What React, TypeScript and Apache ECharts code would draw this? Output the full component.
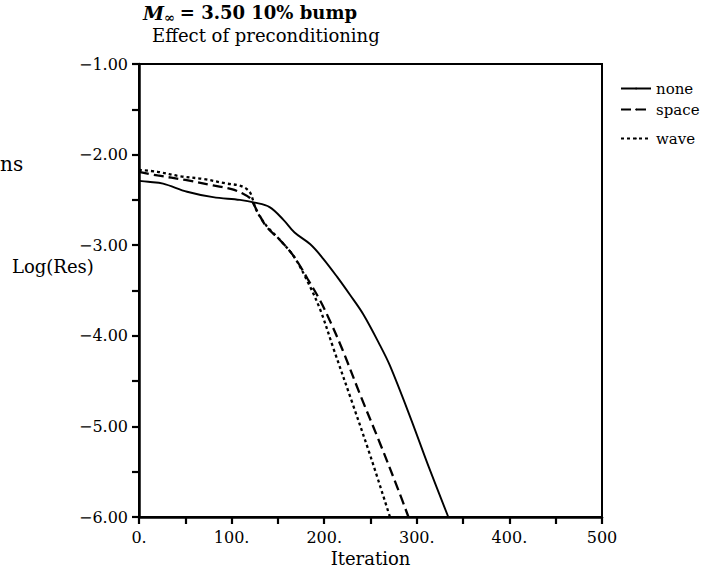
import React, { useEffect, useRef } from "react";
import * as echarts from "echarts";

const FONT = "DejaVu Serif";

const noneIter = [0, 10, 26, 52, 80, 109, 125, 141, 156, 168, 185, 199, 214, 228, 242, 260, 271, 293, 313, 334];
const noneRes = [-2.29, -2.3, -2.32, -2.41, -2.47, -2.5, -2.53, -2.58, -2.72, -2.86, -2.99, -3.15, -3.35, -3.55, -3.76, -4.1, -4.33, -4.9, -5.45, -6.0];

const spaceIter = [0, 20, 50, 80, 100, 112, 120, 124, 128, 138, 152, 167, 182, 195, 206, 220, 240, 260, 280, 291];
const spaceRes = [-2.19, -2.23, -2.28, -2.34, -2.38, -2.43, -2.48, -2.55, -2.63, -2.8, -2.94, -3.12, -3.37, -3.6, -3.83, -4.16, -4.68, -5.18, -5.7, -6.0];

const waveIter = [0, 20, 45, 70, 95, 108, 115, 120, 123, 127, 138, 152, 167, 182, 196, 210, 230, 250, 271];
const waveRes = [-2.17, -2.19, -2.24, -2.27, -2.32, -2.34, -2.37, -2.42, -2.5, -2.62, -2.79, -2.94, -3.12, -3.4, -3.72, -4.14, -4.73, -5.33, -6.0];

const seriesNames = ["none", "space", "wave"];
const titleLine1 = "= 3.50 10% bump";
const titleLine2 = "Effect of preconditioning";
const yTitle = "Log(Res)";
const xTitle = "Iteration";

const zip = (xs: number[], ys: number[]) => xs.map((x, i) => [x, ys[i]]);

export default function App() {
  const ref = useRef<HTMLDivElement>(null);
  useEffect(() => {
    if (!ref.current) return;
    const chart = echarts.init(ref.current, null, { renderer: "svg" });
    const legendCommon = {
      left: 620,
      padding: 0,
      itemWidth: 30,
      itemHeight: 2,
      itemGap: 0,
      selectedMode: false,
      textStyle: { fontFamily: FONT, fontSize: 15, color: "#000" },
    };
    chart.setOption({
      animation: false,
      backgroundColor: "#fff",
      title: [
        {
          text: "{i|M}{s|∞} {n|" + titleLine1 + "}",
          left: 143,
          top: 1,
          padding: 0,
          textStyle: {
            rich: {
              i: { fontFamily: FONT, fontSize: 19, fontStyle: "italic", fontWeight: "bold", color: "#000" },
              s: { fontFamily: FONT, fontSize: 13, fontWeight: "bold", color: "#000", padding: [10, 0, 0, 0] },
              n: { fontFamily: FONT, fontSize: 18, fontWeight: "bold", color: "#000" },
            },
          },
        },
        {
          text: titleLine2,
          left: 152,
          top: 26,
          padding: 0,
          textStyle: { fontFamily: FONT, fontSize: 18, fontWeight: "normal", color: "#000" },
        },
        {
          text: yTitle,
          left: 12,
          top: 257,
          padding: 0,
          textStyle: { fontFamily: FONT, fontSize: 18, fontWeight: "normal", color: "#000" },
        },
        {
          text: "ns",
          left: 0,
          top: 154,
          padding: 0,
          textStyle: { fontFamily: FONT, fontSize: 20, fontWeight: "normal", color: "#000" },
        },
      ],
      legend: [
        { ...legendCommon, data: [seriesNames[0]], top: 81 },
        { ...legendCommon, data: [seriesNames[1]], top: 102 },
        { ...legendCommon, data: [seriesNames[2]], top: 131 },
      ],
      grid: {
        left: 139,
        top: 64,
        width: 463,
        height: 453,
        show: true,
        borderColor: "#000",
        borderWidth: 2,
        backgroundColor: "transparent",
        containLabel: false,
        outerBoundsMode: "none",
      },
      xAxis: {
        type: "value",
        min: 0,
        max: 500,
        interval: 50,
        name: xTitle,
        nameLocation: "middle",
        nameGap: 28,
        nameTextStyle: { fontFamily: FONT, fontSize: 18, color: "#000" },
        axisLine: { show: true, lineStyle: { color: "#000", width: 2.5 } },
        axisTick: { show: true, inside: false, length: 7, lineStyle: { color: "#000", width: 2.2 } },
        splitLine: { show: false },
        axisLabel: {
          fontFamily: FONT,
          fontSize: 16,
          color: "#000",
          margin: 12,
          showMinLabel: true,
          showMaxLabel: true,
          formatter: (v: number) => (v % 100 === 0 ? (v === 500 ? "500" : v + ".") : ""),
        },
      },
      yAxis: {
        type: "value",
        min: -6,
        max: -1,
        interval: 0.5,
        axisLine: { show: true, lineStyle: { color: "#000", width: 2.5 } },
        axisTick: { show: true, inside: false, length: 7, lineStyle: { color: "#000", width: 2.2 } },
        splitLine: { show: false },
        axisLabel: {
          fontFamily: FONT,
          fontSize: 16,
          color: "#000",
          margin: 11,
          showMinLabel: true,
          showMaxLabel: true,
          formatter: (v: number) =>
            Math.abs(v - Math.round(v)) < 1e-9 ? (v < 0 ? "−" : "") + Math.abs(v).toFixed(2) : "",
        },
      },
      series: [
        {
          name: seriesNames[0],
          type: "line",
          data: zip(noneIter, noneRes),
          showSymbol: false,
          symbol: "none",
          smooth: 0.35,
          lineStyle: { color: "#000", width: 1.9, type: "solid" },
          itemStyle: { color: "#000" },
        },
        {
          name: seriesNames[1],
          type: "line",
          data: zip(spaceIter, spaceRes),
          showSymbol: false,
          symbol: "none",
          smooth: 0.35,
          lineStyle: { color: "#000", width: 2.3, type: [10, 5] },
          itemStyle: { color: "#000" },
        },
        {
          name: seriesNames[2],
          type: "line",
          data: zip(waveIter, waveRes),
          showSymbol: false,
          symbol: "none",
          smooth: 0.35,
          lineStyle: { color: "#000", width: 2.3, type: [3, 3] },
          itemStyle: { color: "#000" },
        },
      ],
    });
    return () => chart.dispose();
  }, []);
  return (
    <div
      ref={ref}
      style={{ position: "fixed", left: 0, top: 0, width: 719, height: 568, background: "#fff" }}
    />
  );
}
